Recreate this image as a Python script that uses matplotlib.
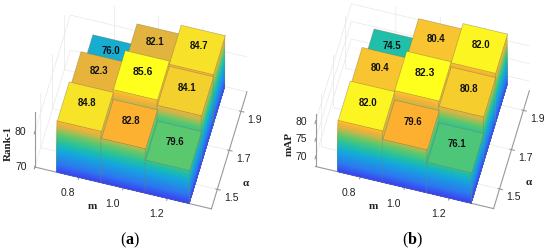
import numpy as np
import matplotlib
matplotlib.use("Agg")
from matplotlib import pyplot as plt
from matplotlib.colors import LinearSegmentedColormap
from mpl_toolkits.mplot3d import proj3d
from mpl_toolkits.mplot3d.art3d import Poly3DCollection

plt.rcParams["mathtext.fontset"] = "custom"
plt.rcParams["mathtext.bf"] = "Liberation Serif:bold"

m_values = [0.8, 1.0, 1.2]
alpha_values = [1.5, 1.7, 1.9]
rank1 = [[84.8, 82.8, 79.6],
         [82.3, 85.6, 84.1],
         [76.0, 82.1, 84.7]]
map_scores = [[82.0, 79.6, 76.1],
              [80.4, 82.3, 80.8],
              [74.5, 80.4, 82.0]]

cmap = LinearSegmentedColormap.from_list("bars", [
    (0.00, "#3c3cf0"), (0.15, "#2c78f0"), (0.36, "#14a8dc"), (0.48, "#1fbfa8"),
    (0.62, "#5cc86c"), (0.74, "#c8b84a"), (0.82, "#fdb030"), (0.92, "#f3d52e"),
    (1.00, "#ffff1e")])


def label_at(ax, x, y, z, text, dx, dy, **kw):
    px, py, _ = proj3d.proj_transform(x, y, z, ax.get_proj())
    ax.annotate(text, (px, py), xytext=(dx, dy), textcoords="offset pixels", ha="center", va="center",
                annotation_clip=False, **kw)


def draw_bars(ax, values, zmin, zmax):
    w = 0.1
    highest = max(max(row) for row in values)
    for j in [2, 1, 0]:
        for i in range(3):
            x = m_values[i]
            y = alpha_values[j]
            top = values[j][i]
            order = 10 * (3 - j) + i
            # tallest strip first, each next one paints over it from the floor up
            zs = np.linspace(top, zmin, 40)[:-1]
            for n, z1 in enumerate(zs):
                c = cmap((z1 - zmin) / (zmax - zmin) * 0.88)
                front = [(x - w, y - w, zmin), (x + w, y - w, zmin), (x + w, y - w, z1), (x - w, y - w, z1)]
                side = [(x + w, y - w, zmin), (x + w, y + w, zmin), (x + w, y + w, z1), (x + w, y - w, z1)]
                ax.add_collection3d(Poly3DCollection([front, side], facecolors=[c, c], edgecolors=[c, c],
                                                     linewidths=0, zorder=order + n * 0.001))
            front = [(x - w, y - w, zmin), (x + w, y - w, zmin), (x + w, y - w, top), (x - w, y - w, top)]
            side = [(x + w, y - w, zmin), (x + w, y + w, zmin), (x + w, y + w, top), (x + w, y - w, top)]
            ax.add_collection3d(Poly3DCollection([front, side], facecolors=[(0, 0, 0, 0)] * 2,
                                                 edgecolors=[(0.5, 0.5, 0.4, 0.35)] * 2,
                                                 linewidths=0.5, zorder=order + 0.2))
            c = cmap((top - zmin) / (zmax - zmin))
            lid = [(x - w, y - w, top), (x + w, y - w, top), (x + w, y + w, top), (x - w, y + w, top)]
            ax.add_collection3d(Poly3DCollection([lid], facecolors=[c], edgecolors=[(0.5, 0.45, 0.3, 0.5)],
                                                 linewidths=0.5, zorder=order + 0.5))
            # labels sit higher on lids that the bar in front partly covers
            in_front = values[j - 1][i] if j > 0 else 0
            lift = 4 + max(0, in_front - top) * 0.8
            size = 7.5 if top == highest else 6.9
            label_at(ax, x, y, top, "%.1f" % top, 2, lift, fontsize=size, fontweight="bold",
                     family="Liberation Sans", color="#111111", zorder=100)


def setup(ax, zlabel, zticks, zlim):
    ax.patch.set_alpha(0)
    ax.computed_zorder = False
    ax.set_proj_type("ortho")
    ax.view_init(elev=62, azim=-75)
    ax.set_xlim(0.6, 1.4)
    ax.set_ylim(1.4, 2.0)
    ax.set_zlim(*zlim)
    ax.set_box_aspect((184, 138, (zlim[1] - zlim[0]) * 7.5))
    ax.set_xticks(m_values)
    ax.set_yticks(alpha_values)
    ax.set_zticks(zticks)
    ax.set_xticklabels([])
    ax.set_yticklabels([])
    ax.set_zticklabels([])
    ax.zaxis.set_ticks_position("lower")
    for a in [ax.xaxis, ax.yaxis, ax.zaxis]:
        a.set_pane_color((1, 1, 1, 0))
        a.pane.set_edgecolor("#ececec")
        a.line.set_color("#999999")
        a._axinfo["grid"]["color"] = "#e8e8e8"
        a._axinfo["grid"]["linewidth"] = 0.5
        a.set_tick_params(color="#999999", width=0.5)

    tick_font = dict(fontsize=7.5, family="Liberation Sans", color="#222222")
    name_font = dict(fontsize=8, family="Liberation Serif", fontweight="bold", color="#222222")
    for m in m_values:
        label_at(ax, m, 1.4, zlim[0], "%.1f" % m, -11, -15, **tick_font)
    for a in alpha_values:
        label_at(ax, 1.4, a, zlim[0], "%.1f" % a, 14, -7.5, **tick_font)
    for z in zticks:
        label_at(ax, 0.6, 1.4, z, "%d" % z, -14, 1, **tick_font)
    label_at(ax, 1.0, 1.4, zlim[0], "m", -31, -18, **name_font)
    label_at(ax, 1.4, 1.7, zlim[0], "α", 17, -32, **name_font)
    label_at(ax, 0.6, 1.4, sum(zlim) / 2, zlabel, -26, -3, rotation=90, **name_font)


fig = plt.figure(figsize=(5.5, 2.53), dpi=100)
ax1 = fig.add_axes([-0.02, 0.087, 0.54, 0.984], projection="3d")
ax2 = fig.add_axes([0.492, 0.087, 0.54, 0.984], projection="3d")
setup(ax1, "Rank-1", [70, 80], (70, 85.6))
setup(ax2, "mAP", [70, 75, 80], (67.3, 82.3))
draw_bars(ax1, rank1, 70, 85.6)
draw_bars(ax2, map_scores, 67.3, 82.3)

fig.text(0.237, 0.05, r"($\mathbf{a}$)", family="Liberation Serif", fontsize=11.5, ha="center", va="center")
fig.text(0.75, 0.05, r"($\mathbf{b}$)", family="Liberation Serif", fontsize=11.5, ha="center", va="center")
fig.savefig("out.png", dpi=100)
